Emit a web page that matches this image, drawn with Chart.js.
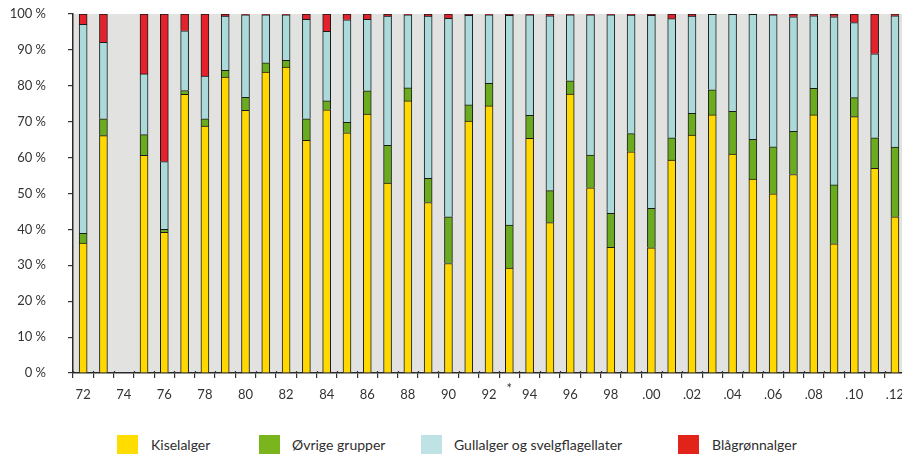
<!DOCTYPE html>
<html>
<head>
<meta charset="utf-8">
<script src="https://cdn.jsdelivr.net/npm/chart.js@4/dist/chart.umd.min.js"></script>
<style>
  html, body { margin:0; padding:0; background:#fff; overflow:hidden; width:902px; height:454px; }
  #wrap { position:absolute; left:0; top:0; width:913px; height:410px; }
  .lg-box { position:absolute; top:435px; width:21px; height:19px; }
  .lg-txt { position:absolute; top:437px; font-family:Lato, "Noto Sans", sans-serif; font-size:14px; line-height:16.8px; color:#2e2e2e; white-space:nowrap; }
</style>
</head>
<body>
<div id="wrap"><canvas id="c" width="913" height="410"></canvas></div>

<div class="lg-box" style="left:117px;background:#FFDD00"></div>
<div class="lg-txt" style="left:151px">Kiselalger</div>
<div class="lg-box" style="left:259px;background:#7AB51D"></div>
<div class="lg-txt" style="left:292px">Øvrige grupper</div>
<div class="lg-box" style="left:421px;background:#BFE2E4"></div>
<div class="lg-txt" style="left:454px">Gullalger og svelgflagellater</div>
<div class="lg-box" style="left:678px;background:#E2231A"></div>
<div class="lg-txt" style="left:712px">Blågrønnalger</div>

<script>
const years = [1972,1973,1974,1975,1976,1977,1978,1979,1980,1981,1982,1983,1984,1985,1986,1987,1988,1989,1990,1991,1992,1993,1994,1995,1996,1997,1998,1999,2000,2001,2002,2003,2004,2005,2006,2007,2008,2009,2010,2011,2012];
const kiselalger = [36.2,66.1,null,60.6,39.2,77.6,68.8,82.4,73.2,83.8,85.2,64.8,73.3,66.9,72.1,52.9,75.8,47.5,30.5,70.2,74.4,29.2,65.4,41.9,77.7,51.6,35.0,61.6,34.9,59.3,66.3,71.9,61.0,54.0,49.9,55.3,71.9,36.0,71.4,57.0,43.5];
const ovrigeGrupper = [2.7,4.7,null,5.8,0.8,1.1,2.0,1.9,3.6,2.6,1.9,6.0,2.5,2.9,6.5,10.5,3.6,6.7,13.0,4.5,6.3,12.0,6.4,8.9,3.7,9.1,9.5,5.1,11.0,6.2,6.0,7.0,11.9,11.1,13.1,12.0,7.4,16.4,5.3,8.5,19.4];
const gullalger = [58.2,21.3,null,16.9,18.9,16.6,11.9,15.1,23.0,13.4,12.7,27.7,19.4,28.6,19.9,36.0,20.4,45.2,55.3,24.9,19.1,58.4,28.0,48.7,18.4,39.1,55.3,33.0,53.7,33.2,27.1,21.0,27.0,34.8,36.8,31.9,20.2,46.8,20.9,23.4,36.6];
const blagronnalger = [2.9,7.9,null,16.7,41.1,4.7,17.3,0.6,0.2,0.2,0.2,1.5,4.8,1.6,1.5,0.6,0.2,0.6,1.2,0.4,0.2,0.4,0.2,0.5,0.2,0.2,0.2,0.3,0.4,1.3,0.6,0.1,0.1,0.1,0.2,0.8,0.5,0.8,2.4,11.1,0.5];
const yTicks = [0,10,20,30,40,50,60,70,80,90,100];
const markedYear = 1993; // marked with * under the axis

function yearLabel(y) {
  if (y % 2 !== 0) return '';
  return y < 2000 ? String(y - 1900) : '.' + String(y - 2000).padStart(2, '0');
}

const TXT = '#333333';
const FONT = 'Lato, "Noto Sans", sans-serif';

const bgPlugin = {
  id: 'bg',
  beforeDraw(chart) {
    const a = chart.chartArea, ctx = chart.ctx;
    ctx.save();
    ctx.fillStyle = '#E2E2E1';
    ctx.fillRect(a.left, a.top, a.right - a.left, a.bottom - a.top);
    ctx.restore();
  },
  afterDatasetsDraw(chart) {
    const x = chart.scales.x, ctx = chart.ctx, a = chart.chartArea;
    ctx.save();
    ctx.strokeStyle = '#333';
    ctx.lineWidth = 1.2;
    const n = years.length;
    const band = (a.right - a.left) / n;
    for (let i = 0; i <= n; i++) {
      const px = Math.round(a.left + i * band) + 0.5;
      ctx.beginPath();
      ctx.moveTo(px, a.bottom - 2);
      ctx.lineTo(px, a.bottom);
      ctx.stroke();
    }
    const xi = x.getPixelForValue(years.indexOf(markedYear));
    ctx.fillStyle = TXT;
    ctx.font = '13px ' + FONT;
    ctx.textAlign = 'center';
    ctx.textBaseline = 'middle';
    ctx.fillText('*', xi, a.bottom + 16);
    ctx.restore();
  }
};

const common = { borderColor: '#1a1a1a', borderWidth: 1, barThickness: 8 };

new Chart(document.getElementById('c'), {
  type: 'bar',
  data: {
    labels: years.map(String),
    datasets: [
      { label: 'Kiselalger', data: kiselalger, backgroundColor: '#FFD800', ...common },
      { label: 'Øvrige grupper', data: ovrigeGrupper, backgroundColor: '#6BAB1F', ...common },
      { label: 'Gullalger og svelgflagellater', data: gullalger, backgroundColor: '#ACDADA', ...common },
      { label: 'Blågrønnalger', data: blagronnalger, backgroundColor: '#E3222B', ...common }
    ]
  },
  options: {
    responsive: false,
    devicePixelRatio: 1,
    animation: false,
    layout: { padding: { top: 14, right: 0, bottom: 0, left: 0 } },
    plugins: { legend: { display: false }, tooltip: { enabled: false } },
    scales: {
      x: {
        stacked: true,
        offset: true,
        afterFit(s) { s.height = 37; },
        grid: { display: true, drawOnChartArea: false, offset: true, tickLength: 5, color: '#333', lineWidth: 1.2 },
        border: { display: true, color: '#2a2a2a', width: 1.5 },
        ticks: {
          autoSkip: false, maxRotation: 0, minRotation: 0, padding: 9,
          color: TXT, font: { family: FONT, size: 13 },
          callback(v, i) { return yearLabel(years[i]); }
        }
      },
      y: {
        stacked: true,
        min: 0, max: 100,
        afterFit(s) { s.width = 73; s.paddingTop = 0; },
        afterBuildTicks(s) { s.ticks = yTicks.map(v => ({ value: v })); },
        grid: { display: true, drawOnChartArea: false, tickLength: 5, color: '#333', lineWidth: 1.2 },
        border: { display: true, color: '#2a2a2a', width: 1.5 },
        ticks: {
          padding: 22, color: TXT, font: { family: FONT, size: 13 },
          callback(v) { return v + ' %'; }
        }
      }
    }
  },
  plugins: [bgPlugin]
});
</script>
</body>
</html>
